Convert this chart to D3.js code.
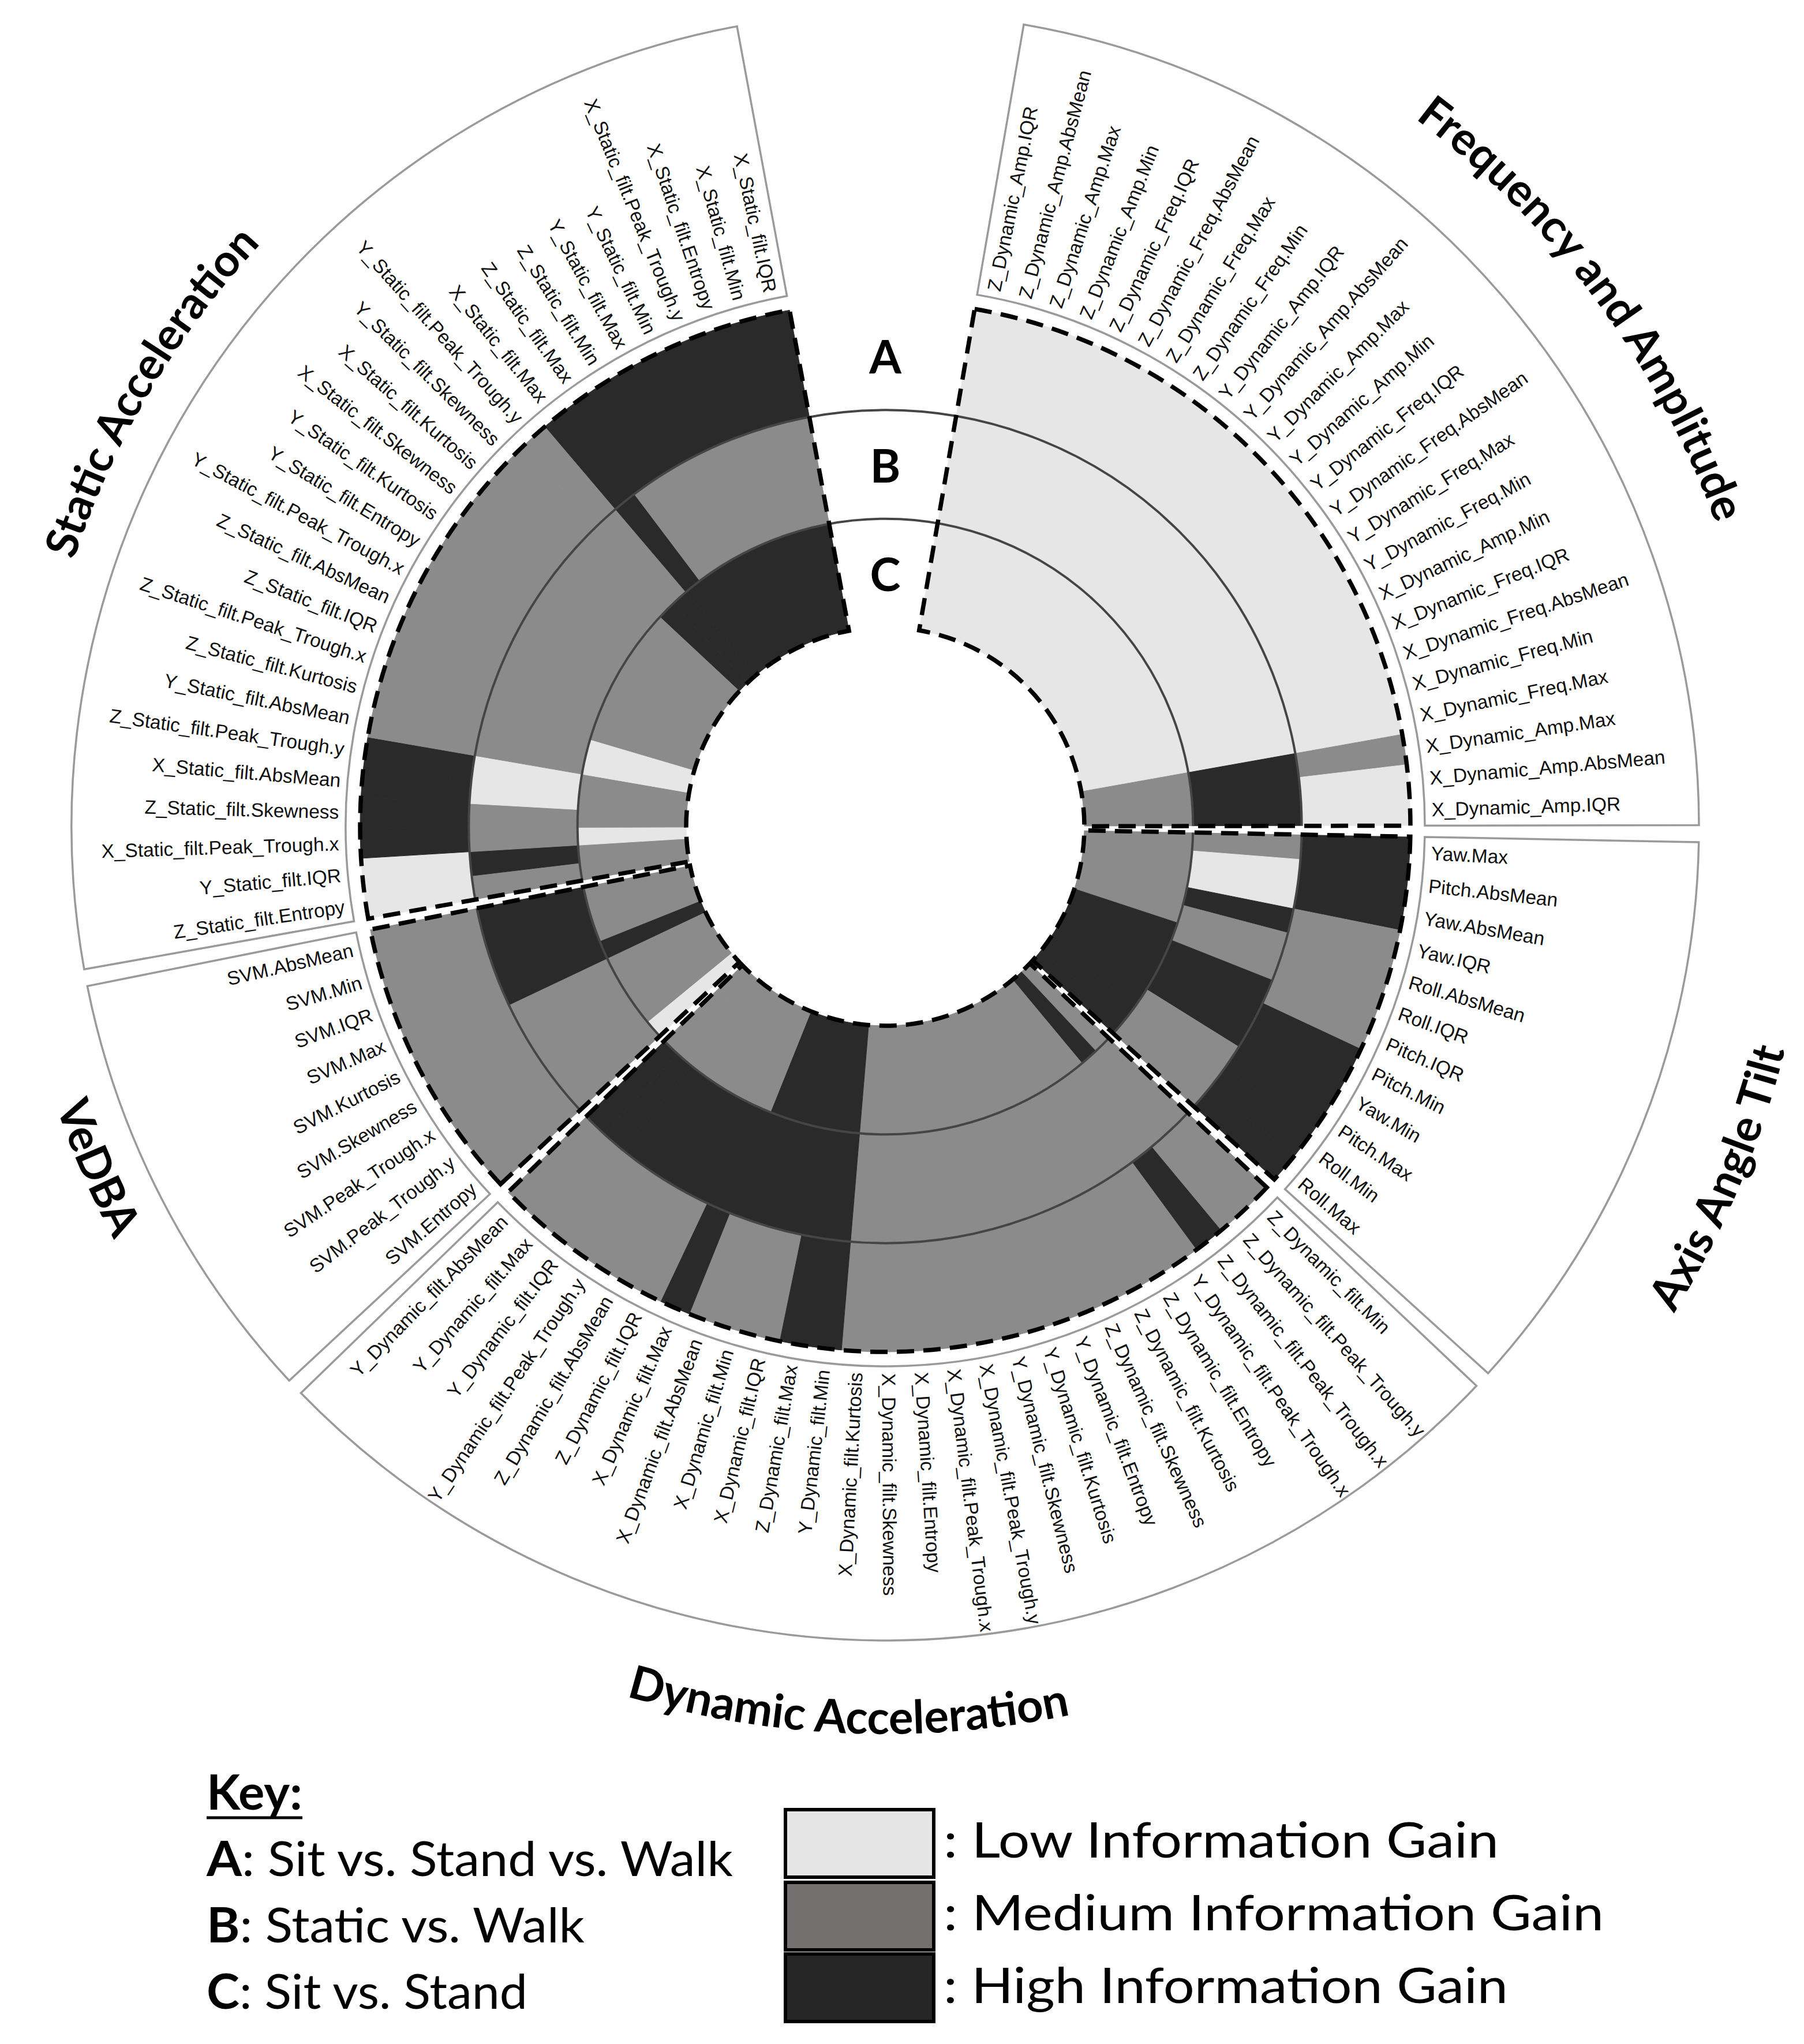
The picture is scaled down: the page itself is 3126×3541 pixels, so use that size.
<!DOCTYPE html>
<html><head><meta charset="utf-8">
<script src="https://cdn.jsdelivr.net/npm/d3@7"></script>
<style>html,body{margin:0;padding:0;background:#fff}</style>
</head><body>
<svg id="chart" width="3126" height="3541" xmlns="http://www.w3.org/2000/svg"></svg>
<script>
// ---------------- DATA ----------------
const ringNames = ["C", "B", "A"];          // inner -> outer
const levelCodes = ["L", "M", "H"];
const levelLabels = [": Low Information Gain", ": Medium Information Gain", ": High Information Gain"];
const keyLetters = ["A", "B", "C"];
const keyTexts = [": Sit vs. Stand vs. Walk", ": Static vs. Walk", ": Sit vs. Stand"];

const groupNames = ["Frequency and Amplitude", "Axis Angle Tilt", "Dynamic Acceleration", "VeDBA", "Static Acceleration"];

const freqFeatures = ["Z_Dynamic_Amp.IQR","Z_Dynamic_Amp.AbsMean","Z_Dynamic_Amp.Max","Z_Dynamic_Amp.Min","Z_Dynamic_Freq.IQR","Z_Dynamic_Freq.AbsMean","Z_Dynamic_Freq.Max","Z_Dynamic_Freq.Min","Y_Dynamic_Amp.IQR","Y_Dynamic_Amp.AbsMean","Y_Dynamic_Amp.Max","Y_Dynamic_Amp.Min","Y_Dynamic_Freq.IQR","Y_Dynamic_Freq.AbsMean","Y_Dynamic_Freq.Max","Y_Dynamic_Freq.Min","X_Dynamic_Amp.Min","X_Dynamic_Freq.IQR","X_Dynamic_Freq.AbsMean","X_Dynamic_Freq.Min","X_Dynamic_Freq.Max","X_Dynamic_Amp.Max","X_Dynamic_Amp.AbsMean","X_Dynamic_Amp.IQR"];
const freqA = ["L","L","L","L","L","L","L","L","L","L","L","L","L","L","L","L","L","L","L","L","L","M","L","L"];
const freqB = ["L","L","L","L","L","L","L","L","L","L","L","L","L","L","L","L","L","L","L","L","L","H","H","H"];
const freqC = ["L","L","L","L","L","L","L","L","L","L","L","L","L","L","L","L","L","L","L","L","L","M","M","M"];

const axisFeatures = ["Yaw.Max","Pitch.AbsMean","Yaw.AbsMean","Yaw.IQR","Roll.AbsMean","Roll.IQR","Pitch.IQR","Pitch.Min","Yaw.Min","Pitch.Max","Roll.Min","Roll.Max"];
const axisA = ["H","H","H","M","M","M","M","H","H","H","H","H"];
const axisB = ["M","L","L","H","M","M","H","H","H","M","M","M"];
const axisC = ["M","M","M","M","M","H","H","H","H","H","H","H"];

const dynFeatures = ["Z_Dynamic_filt.Min","Z_Dynamic_filt.Peak_Trough.y","Z_Dynamic_filt.Peak_Trough.x","Y_Dynamic_filt.Peak_Trough.x","Z_Dynamic_filt.Entropy","Z_Dynamic_filt.Kurtosis","Z_Dynamic_filt.Skewness","Y_Dynamic_filt.Entropy","Y_Dynamic_filt.Kurtosis","Y_Dynamic_filt.Skewness","X_Dynamic_filt.Peak_Trough.y","X_Dynamic_filt.Peak_Trough.x","X_Dynamic_filt.Entropy","X_Dynamic_filt.Skewness","X_Dynamic_filt.Kurtosis","Y_Dynamic_filt.Min","Z_Dynamic_filt.Max","X_Dynamic_filt.IQR","X_Dynamic_filt.Min","X_Dynamic_filt.AbsMean","X_Dynamic_filt.Max","Z_Dynamic_filt.IQR","Z_Dynamic_filt.AbsMean","Y_Dynamic_filt.Peak_Trough.y","Y_Dynamic_filt.IQR","Y_Dynamic_filt.Max","Y_Dynamic_filt.AbsMean"];
const dynA = ["M","M","H","M","M","M","M","M","M","M","M","M","M","M","M","H","H","M","M","M","H","M","M","M","M","M","M"];
const dynB = ["M","M","M","M","M","M","M","M","M","M","M","M","M","M","M","H","H","H","H","H","H","H","H","H","H","H","H"];
const dynC = ["M","H","M","M","M","M","M","M","M","M","M","M","M","M","M","H","H","H","H","H","M","M","M","M","M","M","M"];

const svmFeatures = ["SVM.Entropy","SVM.Peak_Trough.y","SVM.Peak_Trough.x","SVM.Skewness","SVM.Kurtosis","SVM.Max","SVM.IQR","SVM.Min","SVM.AbsMean"];
const svmA = ["M","M","M","M","M","M","M","M","M"];
const svmB = ["M","M","M","M","M","H","H","H","H"];
const svmC = ["L","M","M","M","M","H","M","M","M"];

const staticFeatures = ["Z_Static_filt.Entropy","Y_Static_filt.IQR","X_Static_filt.Peak_Trough.x","Z_Static_filt.Skewness","X_Static_filt.AbsMean","Z_Static_filt.Peak_Trough.y","Y_Static_filt.AbsMean","Z_Static_filt.Kurtosis","Z_Static_filt.Peak_Trough.x","Z_Static_filt.IQR","Z_Static_filt.AbsMean","Y_Static_filt.Peak_Trough.x","Y_Static_filt.Entropy","Y_Static_filt.Kurtosis","X_Static_filt.Skewness","X_Static_filt.Kurtosis","Y_Static_filt.Skewness","Y_Static_filt.Peak_Trough.y","X_Static_filt.Max","Z_Static_filt.Max","Z_Static_filt.Min","Y_Static_filt.Max","Y_Static_filt.Min","X_Static_filt.Peak_Trough.y","X_Static_filt.Entropy","X_Static_filt.Min","X_Static_filt.IQR"];
const staticA = ["L","L","H","H","H","H","M","M","M","M","M","M","M","M","M","M","M","M","H","H","H","H","H","H","H","H","H"];
const staticB = ["M","H","M","M","L","L","M","M","M","M","M","M","M","M","M","M","M","M","H","M","M","M","M","M","M","M","M"];
const staticC = ["M","M","L","M","M","M","L","L","M","M","M","M","M","M","M","M","H","H","H","H","H","H","H","H","H","H","H"];

// ---------------- LAYOUT ----------------
const W = 3126, H = 3541;
const cx = 1534, cy = 1432;
const rInner = 345, rOuter = 910;
const rBoxIn = 935, rBoxOut = 1410, rLabel = 947;
const groupSpansDeg = [[9.8, 89.9], [91.1, 132.2], [133.4, 225.9], [227.1, 258.7], [259.9, 349.5]];
const titleLayout = [
  {center: 53.4, r: 1532, cw: true, size: 78},
  {center: 112.8, r: 1606, cw: false, size: 78},
  {center: 182.4, r: 1572, cw: false, size: 80},
  {center: 246.6, r: 1516, cw: false, size: 78},
  {center: 300.6, r: 1480, cw: true, size: 77}
];
const fillColors = ["#e6e6e6", "#8b8b8b", "#2a2a2a"];
const legendColors = ["#e6e5e5", "#757070", "#262626"];

const groups = [
  {features: freqFeatures, rings: {A: freqA, B: freqB, C: freqC}},
  {features: axisFeatures, rings: {A: axisA, B: axisB, C: axisC}},
  {features: dynFeatures, rings: {A: dynA, B: dynB, C: dynC}},
  {features: svmFeatures, rings: {A: svmA, B: svmB, C: svmC}},
  {features: staticFeatures, rings: {A: staticA, B: staticB, C: staticC}}
];

const rad = d => d * Math.PI / 180;
const svg = d3.select("#chart");
svg.append("rect").attr("width", W).attr("height", H).attr("fill", "#fff");
const root = svg.append("g").attr("transform", `translate(${cx},${cy})`);

const ringScale = d3.scaleBand().domain(ringNames).range([rInner, rOuter]);
const color = d3.scaleOrdinal().domain(levelCodes).range(fillColors);
const arc = d3.arc();

const layerBoxes = root.append("g");
const layerCells = root.append("g");
const layerLines = root.append("g");
const layerGaps = root.append("g");
const layerDash = root.append("g");
const layerLabels = root.append("g");
const layerTitles = root.append("g");

groups.forEach((grp, gi) => {
  const [s0, s1] = groupSpansDeg[gi];
  const angle = d3.scaleBand().domain(grp.features).range([rad(s0), rad(s1)]);
  // label box
  layerBoxes.append("path")
    .attr("d", arc({innerRadius: rBoxIn, outerRadius: rBoxOut, startAngle: rad(s0), endAngle: rad(s1)}))
    .attr("fill", "none").attr("stroke", "#9a9a9a").attr("stroke-width", 3.5);
  // cells
  ringNames.forEach(rn => {
    const vals = grp.rings[rn];
    grp.features.forEach((f, i) => {
      const c = color(vals[i]);
      layerCells.append("path")
        .attr("d", arc({innerRadius: ringScale(rn), outerRadius: ringScale(rn) + ringScale.bandwidth(),
                        startAngle: angle(f), endAngle: angle(f) + angle.bandwidth()}))
        .attr("fill", c).attr("stroke", c).attr("stroke-width", 1);
    });
  });
  // dashed outline
  layerDash.append("path")
    .attr("d", arc({innerRadius: rInner, outerRadius: rOuter, startAngle: rad(s0), endAngle: rad(s1)}))
    .attr("fill", "none").attr("stroke", "#000").attr("stroke-width", 7.5)
    .attr("stroke-dasharray", "30 16");
  // labels
  grp.features.forEach(f => {
    const deg = (angle(f) + angle.bandwidth() / 2) * 180 / Math.PI;
    const flip = deg > 180;
    layerLabels.append("text")
      .attr("transform", `rotate(${deg - 90}) translate(${rLabel},0)` + (flip ? " rotate(180)" : ""))
      .attr("text-anchor", flip ? "end" : "start")
      .attr("dominant-baseline", "central")
      .attr("font-family", "'Liberation Sans', Arial, sans-serif")
      .attr("font-size", 33.5)
      .attr("fill", "#111")
      .text(f);
  });
  // title
  const t = titleLayout[gi];
  const a0 = rad(t.center - 40), a1 = rad(t.center + 40);
  const P = a => [t.r * Math.sin(a), -t.r * Math.cos(a)];
  let d;
  if (t.cw) { const p0 = P(a0), p1 = P(a1); d = `M${p0[0]},${p0[1]} A${t.r},${t.r} 0 0 1 ${p1[0]},${p1[1]}`; }
  else { const p0 = P(a1), p1 = P(a0); d = `M${p0[0]},${p0[1]} A${t.r},${t.r} 0 0 0 ${p1[0]},${p1[1]}`; }
  const pid = "tp" + gi;
  layerTitles.append("path").attr("id", pid).attr("d", d).attr("fill", "none");
  layerTitles.append("text")
    .attr("font-family", "Lato, 'Open Sans', sans-serif").attr("font-weight", "bold")
    .attr("font-size", t.size).attr("fill", "#000")
    .append("textPath").attr("href", "#" + pid).attr("startOffset", "50%")
    .attr("text-anchor", "middle").text(groupNames[gi]);
});

// ring boundary circles
["B", "A"].forEach(rn => {
  layerLines.append("circle").attr("r", ringScale(rn)).attr("fill", "none")
    .attr("stroke", "#454545").attr("stroke-width", 4);
});
// white gaps between adjacent groups (hide ring lines there)
for (let gi = 0; gi < groupSpansDeg.length - 1; gi++) {
  const e = groupSpansDeg[gi][1], s = groupSpansDeg[gi + 1][0];
  layerGaps.append("path")
    .attr("d", arc({innerRadius: rInner - 5, outerRadius: rOuter + 5, startAngle: rad(e), endAngle: rad(s)}))
    .attr("fill", "#fff");
}
// ring letters in top gap
ringNames.forEach(rn => {
  root.append("text").attr("x", 0).attr("y", -(ringScale(rn) + ringScale.bandwidth() / 2))
    .attr("text-anchor", "middle").attr("dominant-baseline", "central")
    .attr("font-family", "Lato, 'Open Sans', sans-serif").attr("font-weight", "bold")
    .attr("font-size", 80).text(rn);
});

// ---------------- LEGEND ----------------
const leg = svg.append("g");
leg.append("text").attr("x", 358).attr("y", 3135)
  .attr("font-family", "Lato, 'Open Sans', sans-serif").attr("font-weight", "bold")
  .attr("font-size", 84).attr("textLength", 166).attr("lengthAdjust", "spacingAndGlyphs").text("Key:");
leg.append("line").attr("x1", 358).attr("x2", 524).attr("y1", 3149).attr("y2", 3149)
  .attr("stroke", "#000").attr("stroke-width", 5);
const keyBase = [3250, 3365, 3480];
const keyWidths = [912, 655, 556];
keyLetters.forEach((k, i) => {
  const t = leg.append("text").attr("x", 358).attr("y", keyBase[i])
    .attr("font-family", "Lato, 'Open Sans', sans-serif").attr("font-size", 84)
    .attr("textLength", keyWidths[i]).attr("lengthAdjust", "spacingAndGlyphs");
  t.append("tspan").attr("font-weight", "bold").text(k);
  t.append("tspan").text(keyTexts[i]);
});
const boxY = [3135, 3261, 3385];
const textBase = [3218, 3344, 3470];
const textWidths = [962, 1144, 978];
levelCodes.forEach((c, i) => {
  leg.append("rect").attr("x", 1361).attr("y", boxY[i]).attr("width", 257).attr("height", 117)
    .attr("fill", legendColors[i]).attr("stroke", "#000").attr("stroke-width", 6);
  leg.append("text").attr("x", 1635).attr("y", textBase[i])
    .attr("font-family", "Lato, 'Open Sans', sans-serif").attr("font-size", 86)
    .attr("textLength", textWidths[i]).attr("lengthAdjust", "spacingAndGlyphs")
    .text(levelLabels[i]);
});
</script>
</body></html>
